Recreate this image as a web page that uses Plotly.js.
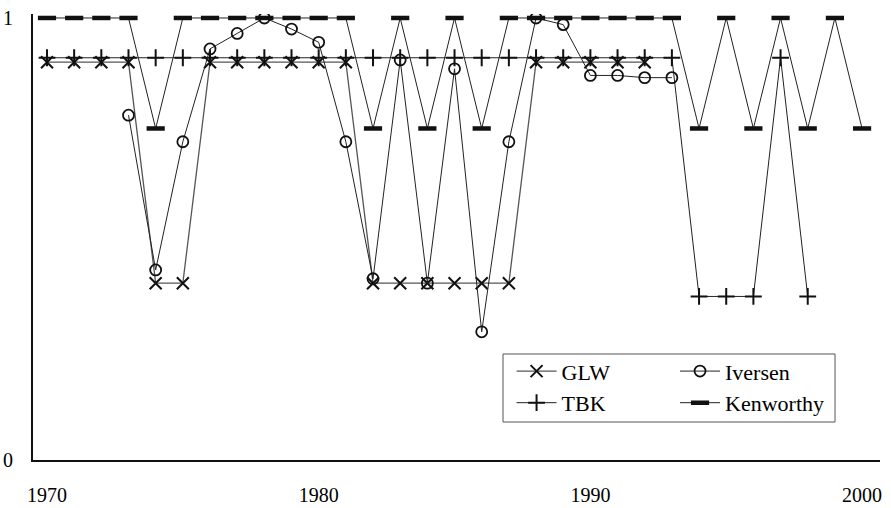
<!DOCTYPE html>
<html>
<head>
<meta charset="utf-8">
<script src="https://cdn.plot.ly/plotly-3.0.1.min.js"></script>
<style>html,body{margin:0;padding:0;background:#fff;}#chart{width:891px;height:508px;}</style>
</head>
<body>
<div id="chart"></div>
<script>
const years = [1970,1971,1972,1973,1974,1975,1976,1977,1978,1979,1980,1981,1982,1983,1984,1985,1986,1987,1988,1989,1990,1991,1992,1993,1994,1995,1996,1997,1998,1999,2000];
const glw = [0.90,0.90,0.90,0.90,0.40,0.40,0.90,0.90,0.90,0.90,0.90,0.90,0.40,0.40,0.40,0.40,0.40,0.40,0.90,0.90,0.90,0.90,0.90,null,null,null,null,null,null,null,null];
const iversen = [null,null,null,0.78,0.43,0.72,0.93,0.965,1.0,0.975,0.945,0.72,0.41,0.905,0.40,0.885,0.29,0.72,1.0,0.985,0.87,0.87,0.865,0.865,null,null,null,null,null,null,null];
const tbk = [0.91,0.91,0.91,0.91,0.91,0.91,0.91,0.91,0.91,0.91,0.91,0.91,0.91,0.91,0.91,0.91,0.91,0.91,0.91,0.91,0.91,0.91,0.91,0.91,0.37,0.37,0.37,0.91,0.37,null,null];
const kenworthy = [1,1,1,1,0.75,1,1,1,1,1,1,1,0.75,1,0.75,1,0.75,1,1,1,1,1,1,1,0.75,1,0.75,1,0.75,1,0.75];
const xTicks = [1970,1980,1990,2000];
const xTickText = ["1970","1980","1990","2000"];
const yTicks = [0,1];
const yTickText = ["0","1"];

const font = {family: "Liberation Serif", color: "#000"};

const traces = [
  {x: years, y: glw, name: "GLW", mode: "lines+markers", legend: "legend",
   line: {color: "#555", width: 1.3},
   marker: {symbol: "x-thin-open", size: 12, color: "#111", line: {width: 2, color: "#111"}}},
  {x: years, y: tbk, name: "TBK", mode: "lines+markers", legend: "legend",
   line: {color: "#222", width: 1},
   marker: {symbol: "cross-thin-open", size: 12, color: "#111", line: {width: 2, color: "#111"}}},
  {x: years, y: iversen, name: "Iversen", mode: "lines+markers", legend: "legend2",
   line: {color: "#222", width: 1},
   marker: {symbol: "circle-open", size: 11, color: "#111", line: {width: 1.8, color: "#111"}}},
  {x: years, y: kenworthy, name: "Kenworthy", mode: "lines+markers", legend: "legend2",
   line: {color: "#222", width: 1},
   marker: {symbol: "line-ew", size: 13, color: "#111", line: {width: 4.5, color: "#111"}}}
];

const layout = {
  width: 891, height: 508,
  margin: {l: 33, r: 11, t: 14, b: 48},
  paper_bgcolor: "#fff", plot_bgcolor: "#fff",
  font: Object.assign({size: 20}, font),
  showlegend: true,
  xaxis: {
    range: [1969.485, 2000.66], showgrid: false, zeroline: false,
    showline: true, linecolor: "#111", linewidth: 2,
    tickmode: "array", tickvals: xTicks, ticktext: xTickText,
    ticks: "", ticklabelstandoff: 16, tickfont: Object.assign({size: 20}, font)
  },
  yaxis: {
    range: [0, 1.009], showgrid: false, zeroline: false,
    showline: true, linecolor: "#111", linewidth: 2,
    tickmode: "array", tickvals: yTicks, ticktext: yTickText,
    ticks: "", ticklabelstandoff: 14, tickfont: Object.assign({size: 20}, font)
  },
  legend: {
    x: 0.565, y: 0.246, xanchor: "left", yanchor: "top",
    bgcolor: "rgba(0,0,0,0)", borderwidth: 0, itemwidth: 40,
    font: Object.assign({size: 22}, font), tracegroupgap: 0
  },
  legend2: {
    x: 0.758, y: 0.246, xanchor: "left", yanchor: "top",
    bgcolor: "rgba(0,0,0,0)", borderwidth: 0, itemwidth: 40,
    font: Object.assign({size: 22}, font), tracegroupgap: 0
  },
  shapes: [
    {type: "rect", xref: "paper", yref: "paper", x0: 0.5549, x1: 0.9469, y0: 0.0852, y1: 0.2377,
     line: {color: "#555", width: 1}, fillcolor: "rgba(0,0,0,0)", layer: "below"}
  ]
};

Plotly.newPlot("chart", traces, layout, {displayModeBar: false, staticPlot: true});
</script>
</body>
</html>
